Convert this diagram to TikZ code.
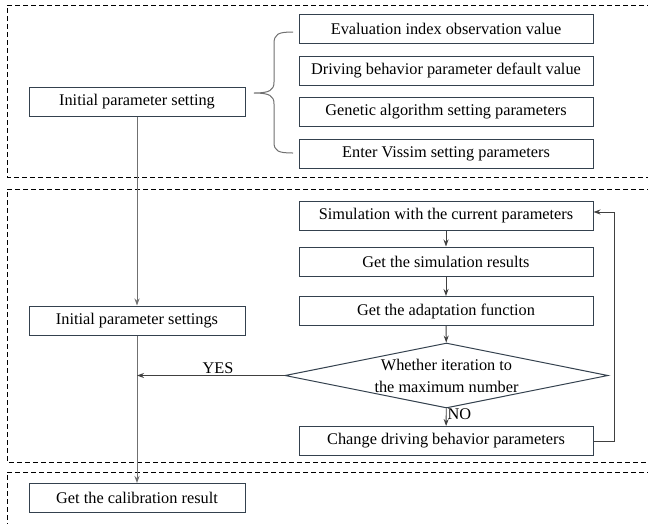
\documentclass[tikz,border=0pt]{standalone}
\usepackage{fontspec}
\setmainfont{Liberation Serif}
\usetikzlibrary{arrows.meta,shapes.geometric,calc}
\definecolor{boxline}{HTML}{34414E}
\definecolor{conn}{HTML}{707070}
\tikzset{
  box/.style={draw=boxline, line width=1pt, minimum height=29pt, inner sep=0pt, font=\fontsize{16.3}{18}\selectfont},
  lbox/.style={box, minimum width=216pt},
  rbox/.style={box, minimum width=294pt},
  frame/.style={dashed, dash pattern=on 5pt off 3pt, line width=0.9pt, black},
  conn/.style={draw=conn, line width=0.9pt, -{Stealth[length=7pt,width=5pt]}},
  rconn/.style={draw=black!75, line width=0.9pt, -{Stealth[length=7pt,width=5pt]}},
  lbl/.style={font=\fontsize{16.3}{18}\selectfont, inner sep=1pt}
}
\begin{document}
\begin{tikzpicture}[x=1pt,y=-1pt]
\useasboundingbox (0,0) rectangle (648,523);
\clip (0,0) rectangle (648,523);
\fill[white] (0,0) rectangle (648,523);
% dashed frames
\draw[frame] (660,5) -- (7,5) -- (7,177) -- (660,177);
\draw[frame] (660,189) -- (7,189) -- (7,462) -- (660,462);
\draw[frame] (660,472) -- (7,472) -- (7,540);
% top section
\node[lbox] (init) at (137,101.5) {Initial parameter setting};
\node[rbox] (eval) at (446,28.5) {Evaluation index observation value};
\node[rbox] (drive) at (446,70.5) {Driving behavior parameter default value};
\node[rbox] (gen) at (446,112) {Genetic algorithm setting parameters};
\node[rbox] (vis) at (446,154) {Enter Vissim setting parameters};
% brace
\coordinate (bt) at (293,32);
\coordinate (bb) at (293,153);
\coordinate (btip) at (254,93);
\draw[conn, -, line width=1pt] (bt) .. controls (278,32) and (274,34) .. (274,44)
  -- (274,82) .. controls (274,90) and (270,93) .. (btip)
  .. controls (270,93) and (274,96) .. (274,104)
  -- (274,142) .. controls (274,151) and (278,153) .. (bb);
% middle section
\node[rbox] (sim) at (446,215.5) {Simulation with the current parameters};
\node[rbox] (res) at (446,261.5) {Get the simulation results};
\node[rbox] (fit) at (446,311) {Get the adaptation function};
\node[draw=boxline, line width=1pt, diamond, aspect=4.95, minimum width=323pt, minimum height=65pt, inner sep=0pt, align=center, font=\fontsize{16.3}{22}\selectfont] (dec) at (446.5,375.5) {Whether iteration to\\the maximum number};
\node[rbox] (chg) at (446,441) {Change driving behavior parameters};
\node[lbox] (init2) at (137,320.5) {Initial parameter settings};
% bottom section
\node[lbox] (cal) at (137,498) {Get the calibration result};
% connectors
\draw[conn] (init) -- (init2);
\coordinate (join) at (init2 |- dec.west);
\draw[conn] (init2) -- (cal);
\draw[rconn] (dec.west) -- node[lbl, above, pos=0.45] {YES} (join);
\draw[rconn] (sim) -- (res);
\draw[rconn] (res) -- (fit);
\draw[rconn] (fit) -- (dec);
\draw[rconn] (dec) -- node[lbl, right, pos=0.3] {NO} (chg);
\coordinate (fb1) at (614,441);
\coordinate (fb2) at (614,212);
\draw[rconn] (chg.east |- fb1) -- (fb1) -- (fb2) -- (sim.east |- fb2);
\end{tikzpicture}
\end{document}
